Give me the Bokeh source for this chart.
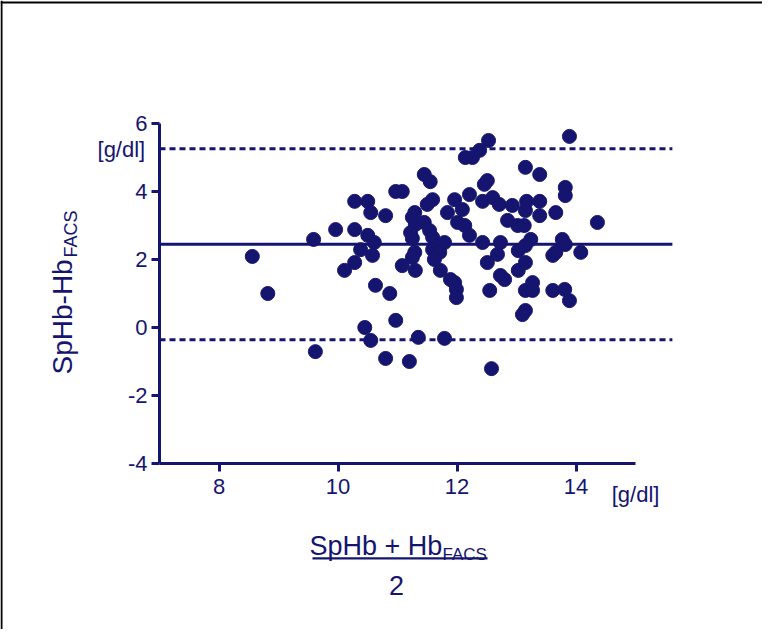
from bokeh.plotting import figure
from bokeh.models import Label, BoxAnnotation, FixedTicker, Range1d, Span, PrintfTickFormatter
from bokeh.embed import file_html
from bokeh.resources import INLINE

# Bland-Altman data: mean of methods (x) and difference SpHb - Hb_FACS (y), g/dl
mean_x = [9.96, 10.28, 10.50, 10.55, 10.28, 10.50, 10.61, 10.38, 10.58, 10.28,
          10.11, 10.80, 10.97, 11.08, 11.45, 11.55, 11.29, 11.25, 11.30, 11.22,
          11.25, 11.50, 11.59, 11.45, 11.54, 11.59, 11.79, 11.59, 11.71, 11.62,
          11.29, 11.25, 11.08, 11.30, 11.72, 11.84, 11.96, 12.09, 12.01, 12.13,
          12.21, 12.21, 12.14, 12.26, 12.38, 12.53, 12.46, 12.51, 12.43, 12.60,
          12.71, 12.93, 12.85, 13.02, 13.13, 13.15, 12.43, 12.73, 13.03, 12.68,
          12.51, 13.03, 13.15, 13.89, 13.39, 13.82, 13.82, 13.17, 13.15, 13.39,
          13.39, 13.66, 14.36, 13.24, 13.77, 13.82, 13.61, 13.66, 14.08, 13.15,
          13.27, 13.15, 13.27, 13.61, 13.81, 13.89, 13.15, 13.10, 10.63, 10.87,
          11.89, 11.96, 11.99, 11.99, 12.73, 12.80, 12.55, 10.45, 10.97, 10.55,
          11.35, 11.79, 10.80, 11.20, 12.58, 8.56, 8.82, 9.59, 9.62]
diff_y = [2.88, 3.71, 3.71, 3.38, 2.88, 2.71, 2.50, 2.29, 2.12, 1.91,
          1.68, 3.29, 4.00, 4.00, 4.50, 4.29, 3.38, 3.24, 3.03, 2.79,
          2.62, 3.62, 3.76, 3.09, 2.85, 2.65, 2.50, 2.29, 2.21, 2.00,
          2.21, 2.06, 1.82, 1.68, 1.68, 3.38, 3.76, 3.47, 3.09, 3.00,
          3.91, 2.71, 5.00, 5.00, 5.21, 5.50, 4.21, 4.32, 3.71, 3.82,
          3.62, 3.59, 3.15, 3.00, 3.00, 4.71, 2.50, 2.50, 2.26, 2.15,
          1.91, 1.68, 2.41, 5.62, 4.50, 4.12, 3.88, 3.71, 3.44, 3.71,
          3.29, 3.38, 3.09, 2.59, 2.59, 2.44, 2.12, 2.21, 2.21, 1.91,
          1.32, 1.09, 1.09, 1.09, 1.12, 0.79, 0.50, 0.38, 1.24, 1.00,
          1.41, 1.32, 1.12, 0.88, 1.53, 1.41, 1.09, 0.00, 0.21, -0.38,
          -0.29, -0.32, -0.91, -1.00, -1.21, 2.09, 1.00, 2.59, -0.71]

bias = 2.45
loa_upper = 5.26
loa_lower = -0.36
line_span = [7.0, 15.62]
x_ticks = [8, 10, 12, 14]
y_ticks = [-4, -2, 0, 2, 4, 6]

NAVY = "#15156f"
FONT = "Liberation Sans"

W, H = 762, 629
PX_X = 59.5   # pixels per x unit
PX_Y = 34.0   # pixels per y unit
x0 = 7 - 159 / PX_X
y1 = 6 + 123 / PX_Y
x_rng = Range1d(x0, x0 + W / PX_X)
y_rng = Range1d(y1 - H / PX_Y, y1)

p = figure(width=W, height=H, output_backend="svg", toolbar_location=None,
           x_range=x_rng, y_range=y_rng,
           min_border_left=0, min_border_right=0, min_border_top=0, min_border_bottom=0)
p.outline_line_color = None
p.xgrid.visible = False
p.ygrid.visible = False
p.background_fill_color = "white"
p.border_fill_color = "white"

for ax in (p.xaxis[0], p.yaxis[0]):
    ax.axis_line_color = NAVY
    ax.axis_line_width = 3
    ax.major_tick_line_color = NAVY
    ax.major_tick_line_width = 3
    ax.major_tick_out = 8
    ax.major_tick_in = 0
    ax.minor_tick_line_color = None
    ax.major_label_text_color = NAVY
    ax.major_label_text_font = FONT
    ax.major_label_text_font_size = "22px"
    ax.formatter = PrintfTickFormatter(format="%d")

p.xaxis[0].ticker = FixedTicker(ticks=x_ticks)
p.yaxis[0].ticker = FixedTicker(ticks=y_ticks)
p.xaxis[0].bounds = (7, 15)
p.yaxis[0].bounds = (-4, 6)
p.xaxis[0].fixed_location = -4
p.yaxis[0].fixed_location = 7
p.xaxis[0].major_label_standoff = 7
p.yaxis[0].major_label_standoff = 4

# outer frame border (left and top)
p.add_layout(Span(location=x0 + 1 / PX_X, dimension="height", line_color="black", line_width=2))
p.add_layout(Span(location=y1 - 2 / PX_Y, dimension="width", line_color="black", line_width=2))

p.line(line_span, [bias, bias], line_color=NAVY, line_width=3)
p.line(line_span, [loa_upper, loa_upper], line_color=NAVY, line_width=3, line_dash="6 4")
p.line(line_span, [loa_lower, loa_lower], line_color=NAVY, line_width=3, line_dash="6 4")

p.scatter(mean_x, diff_y, size=14, fill_color=NAVY, line_color=NAVY)

# unit labels
p.add_layout(Label(x=6.76, y=5.25, text="[g/dl]", text_align="right", text_baseline="middle",
                   text_font=FONT, text_font_size="22px", text_color=NAVY))
p.add_layout(Label(x=14.60, y=-4.91, text="[g/dl]", text_align="left", text_baseline="middle",
                   text_font=FONT, text_font_size="22px", text_color=NAVY))

# y axis title (rotated) with subscript
p.add_layout(Label(x=5.37, y=-1.382, text="SpHb-Hb", angle=1.5707963, text_align="left",
                   text_baseline="alphabetic", text_font=FONT, text_font_size="28px", text_color=NAVY))
p.add_layout(Label(x=5.52, y=2.06, text="FACS", angle=1.5707963, text_align="left",
                   text_baseline="alphabetic", text_font=FONT, text_font_size="18px", text_color=NAVY))

# x axis title as fraction
p.add_layout(Label(x=9.521, y=-6.412, text="SpHb + Hb", text_align="left",
                   text_baseline="alphabetic", text_font=FONT, text_font_size="27px", text_color=NAVY))
p.add_layout(Label(x=11.756, y=-6.676, text="FACS", text_align="left",
                   text_baseline="alphabetic", text_font=FONT, text_font_size="17px", text_color=NAVY))
p.add_layout(BoxAnnotation(left=9.571, right=12.513, bottom=-6.82, top=-6.76,
                           fill_color=NAVY, fill_alpha=1.0, line_color=None))
p.add_layout(Label(x=10.983, y=-7.588, text="2", text_align="center",
                   text_baseline="alphabetic", text_font=FONT, text_font_size="27px", text_color=NAVY))

open("out.html", "w").write(file_html(p, INLINE))
